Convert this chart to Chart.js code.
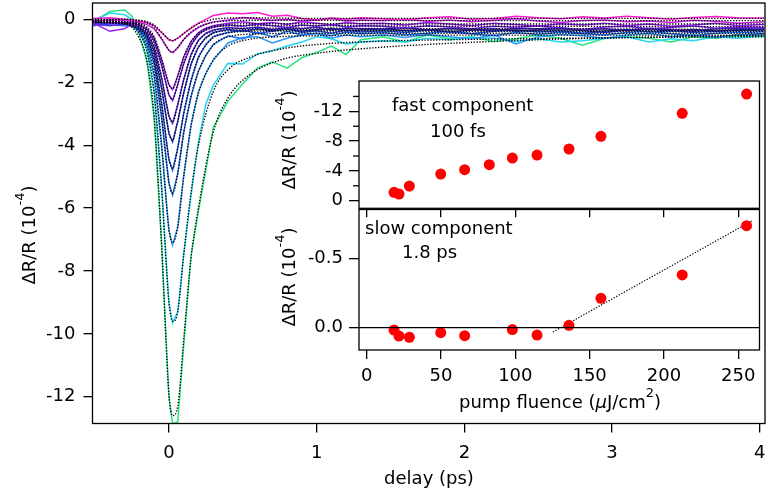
<!DOCTYPE html>
<html>
<head>
<meta charset="utf-8">
<script src="https://cdn.jsdelivr.net/npm/chart.js@4.4.1/dist/chart.umd.min.js"></script>
<style>
  html, body { margin: 0; padding: 0; background: #fff; }
  #wrap { position: relative; width: 768px; height: 496px; }
  #wrap canvas { position: absolute; left: 0; top: 0; }
</style>
</head>
<body>
<div id="wrap">
  <canvas id="main" width="768" height="496"></canvas>
  <canvas id="slow" width="768" height="496"></canvas>
  <canvas id="fast" width="768" height="496"></canvas>
</div>
<script>
// ---- main panel: transient reflectivity traces (delay in ps, dR/R in 1e-4) ----
var delay = [-0.52, -0.4, -0.3, -0.25, -0.2, -0.15, -0.1, -0.05, 0, 0.025,
  0.06, 0.1, 0.15, 0.2, 0.25, 0.3, 0.4, 0.5, 0.6, 0.7, 0.8, 0.9, 1.0, 1.1, 1.2, 1.3,
  1.45, 1.6, 1.75, 1.9, 2.05, 2.2, 2.35, 2.5, 2.65, 2.8, 2.95, 3.1, 3.25, 3.4, 3.55, 3.7, 3.85, 4.03];

var trA = [0.03, 0.05, 0.0, -0.03, -0.06, -0.1, -0.2, -0.42, -0.65, -0.69,
  -0.6, -0.45, -0.28, -0.12, 0.0, 0.12, 0.2, 0.18, 0.22, 0.1, 0.13, 0.03, -0.02, 0.04, 0.0, 0.05,
  0.02, -0.02, 0.05, 0.08, 0.0, 0.03, 0.1, 0.05, 0.02, 0.08, 0.04, 0.1, 0.05, 0.0, 0.06, 0.09, 0.05, 0.04];
var trB = [-0.05, -0.02, -0.04, -0.06, -0.1, -0.16, -0.3, -0.62, -0.99, -1.06,
  -0.9, -0.64, -0.42, -0.26, -0.15, -0.08, -0.02, 0.06, 0.02, -0.04, 0.0, -0.06, -0.02, 0.03, -0.05, -0.02,
  -0.04, 0.0, -0.06, -0.02, -0.08, -0.03, 0.02, -0.05, -0.1, -0.04, -0.02, -0.08, -0.05, -0.1, -0.03, -0.06, -0.12, -0.08];
var trC = [-0.1, -0.38, -0.3, -0.15, -0.18, -0.3, -0.6, -1.25, -2.08, -2.24,
  -1.8, -1.2, -0.7, -0.42, -0.28, -0.2, -0.12, -0.08, -0.14, -0.1, -0.16, -0.08, -0.12, -0.18, -0.1, -0.14,
  -0.12, -0.18, -0.1, -0.15, -0.2, -0.12, -0.16, -0.22, -0.14, -0.18, -0.12, -0.2, -0.15, -0.22, -0.18, -0.12, -0.2, -0.16];
var trD = [-0.08, -0.12, -0.1, -0.12, -0.18, -0.32, -0.68, -1.45, -2.4, -2.58,
  -2.08, -1.42, -0.82, -0.48, -0.32, -0.24, -0.18, -0.22, -0.15, -0.2, -0.26, -0.18, -0.22, -0.16, -0.24, -0.2,
  -0.22, -0.28, -0.2, -0.24, -0.3, -0.22, -0.26, -0.2, -0.28, -0.32, -0.24, -0.22, -0.3, -0.26, -0.2, -0.28, -0.24, -0.26];
var trE = [-0.15, -0.2, -0.15, -0.18, -0.25, -0.42, -0.88, -1.85, -3.08, -3.31,
  -2.72, -1.92, -1.12, -0.66, -0.44, -0.34, -0.26, -0.3, -0.24, -0.32, -0.26, -0.3, -0.24, -0.34, -0.28, -0.3,
  -0.3, -0.26, -0.34, -0.28, -0.32, -0.36, -0.28, -0.3, -0.26, -0.34, -0.3, -0.36, -0.28, -0.32, -0.38, -0.3, -0.28, -0.32];
var trF = [-0.12, -0.1, -0.15, -0.2, -0.28, -0.48, -1.02, -2.18, -3.62, -3.9,
  -3.25, -2.35, -1.42, -0.88, -0.58, -0.42, -0.32, -0.38, -0.3, -0.36, -0.3, -0.38, -0.32, -0.28, -0.36, -0.34,
  -0.3, -0.36, -0.32, -0.4, -0.34, -0.3, -0.38, -0.34, -0.3, -0.36, -0.42, -0.34, -0.3, -0.36, -0.32, -0.38, -0.34, -0.3];
var trG = [-0.2, -0.15, -0.1, -0.18, -0.3, -0.58, -1.25, -2.66, -4.45, -4.8,
  -4.1, -3.0, -1.95, -1.2, -0.8, -0.55, -0.42, -0.35, -0.45, -0.38, -0.3, -0.42, -0.36, -0.44, -0.34, -0.4,
  -0.36, -0.42, -0.34, -0.4, -0.46, -0.38, -0.34, -0.4, -0.36, -0.44, -0.38, -0.32, -0.4, -0.36, -0.42, -0.38, -0.34, -0.38];
var trH = [-0.1, -0.18, -0.2, -0.22, -0.35, -0.65, -1.42, -3.1, -5.2, -5.59,
  -4.9, -3.6, -2.45, -1.65, -1.15, -0.8, -0.52, -0.62, -0.42, -0.55, -0.38, -0.5, -0.44, -0.52, -0.4, -0.46,
  -0.42, -0.5, -0.44, -0.38, -0.46, -0.52, -0.42, -0.48, -0.4, -0.46, -0.5, -0.42, -0.38, -0.46, -0.52, -0.44, -0.4, -0.45];
var trI = [-0.15, -0.1, -0.12, -0.2, -0.4, -0.8, -1.8, -4.0, -6.7, -7.18,
  -6.6, -5.0, -3.35, -2.3, -1.72, -1.3, -0.75, -0.58, -0.55, -0.75, -0.6, -0.5, -0.45, -0.6, -0.5, -0.55,
  -0.5, -0.58, -0.48, -0.55, -0.62, -0.5, -0.78, -0.55, -0.48, -0.52, -0.6, -0.5, -0.45, -0.55, -0.5, -0.58, -0.48, -0.5];
var trJ = [-0.05, 0.2, 0.15, 0.0, -0.35, -0.95, -2.3, -5.3, -9.0, -9.65,
  -9.3, -7.5, -5.6, -3.9, -2.7, -2.1, -1.4, -1.42, -1.1, -1.0, -0.85, -0.72, -0.55, -0.62, -0.78, -0.72,
  -0.68, -0.72, -0.6, -0.65, -0.58, -0.6, -0.7, -0.62, -0.72, -0.68, -0.6, -0.55, -0.72, -0.62, -0.68, -0.55, -0.6, -0.52];
var trK = [-0.1, 0.25, 0.3, 0.1, -0.5, -1.3, -3.1, -7.1, -12.0, -12.85,
  -12.8, -10.4, -7.5, -6.1, -4.8, -3.45, -2.6, -2.05, -1.55, -1.35, -1.55, -1.22, -1.05, -0.85, -1.12, -0.65,
  -0.55, -0.72, -0.5, -0.62, -0.55, -0.7, -0.62, -0.5, -0.6, -0.82, -0.6, -0.55, -0.6, -0.72, -0.55, -0.6, -0.52, -0.55];

var traceColors = ['#ff1fcf', '#c61fe6', '#9a1ff2', '#7b22f0', '#5526e6', '#2a36d8',
  '#2056ee', '#1f74f2', '#2a98f8', '#22d6ef', '#25e57f'];

// fitted curves (black dotted)
var fitDelay = [-0.52, -0.3, -0.2, -0.15, -0.1, -0.05, 0, 0.025, 0.06, 0.1, 0.15, 0.2, 0.3, 0.4, 0.55, 0.75, 1.0, 1.4, 2.0, 2.7, 3.4, 4.03];
var fitA = [0, 0, -0.03, -0.07, -0.18, -0.4, -0.63, -0.68, -0.6, -0.45, -0.27, -0.14, 0.0, 0.04, 0.05, 0.04, 0.03, 0.03, 0.03, 0.03, 0.03, 0.03];
var fitB = [0, 0, -0.05, -0.1, -0.26, -0.6, -0.98, -1.04, -0.9, -0.64, -0.4, -0.25, -0.1, -0.05, -0.03, -0.03, -0.03, -0.04, -0.04, -0.04, -0.04, -0.04];
var fitC = [-0.05, -0.08, -0.13, -0.24, -0.55, -1.24, -2.07, -2.2, -1.8, -1.2, -0.72, -0.44, -0.22, -0.16, -0.14, -0.14, -0.14, -0.14, -0.15, -0.15, -0.15, -0.15];
var fitD = [-0.05, -0.08, -0.14, -0.28, -0.63, -1.42, -2.38, -2.54, -2.06, -1.4, -0.84, -0.5, -0.26, -0.21, -0.2, -0.2, -0.2, -0.21, -0.22, -0.22, -0.23, -0.23];
var fitE = [-0.08, -0.1, -0.18, -0.36, -0.82, -1.82, -3.06, -3.26, -2.7, -1.92, -1.14, -0.68, -0.36, -0.3, -0.28, -0.28, -0.28, -0.29, -0.3, -0.3, -0.31, -0.31];
var fitF = [-0.08, -0.1, -0.2, -0.42, -0.96, -2.14, -3.6, -3.84, -3.22, -2.34, -1.44, -0.88, -0.45, -0.36, -0.33, -0.33, -0.33, -0.34, -0.34, -0.35, -0.35, -0.35];
var fitG = [-0.08, -0.12, -0.24, -0.52, -1.18, -2.62, -4.42, -4.74, -4.08, -3.0, -1.95, -1.22, -0.58, -0.43, -0.38, -0.37, -0.37, -0.37, -0.38, -0.38, -0.38, -0.38];
var fitH = [-0.1, -0.14, -0.3, -0.6, -1.36, -3.06, -5.18, -5.52, -4.9, -3.62, -2.45, -1.65, -0.82, -0.56, -0.47, -0.45, -0.44, -0.44, -0.44, -0.44, -0.44, -0.44];
var fitI = [-0.1, -0.15, -0.36, -0.76, -1.74, -3.94, -6.66, -7.1, -6.6, -5.0, -3.4, -2.35, -1.3, -0.85, -0.63, -0.55, -0.52, -0.5, -0.5, -0.5, -0.5, -0.5];
var fitJ = [-0.05, -0.1, -0.45, -0.98, -2.32, -5.28, -8.98, -9.6, -9.3, -7.5, -5.5, -4.0, -2.3, -1.6, -1.2, -0.95, -0.8, -0.7, -0.64, -0.6, -0.57, -0.55];
var fitK = [-0.05, -0.12, -0.6, -1.3, -3.1, -7.1, -11.9, -12.6, -12.3, -10.2, -7.6, -6.0, -3.6, -2.5, -1.75, -1.3, -1.08, -0.9, -0.74, -0.62, -0.55, -0.5];

var delayTicks = [0, 1, 2, 3, 4];
var mainYTicks = [0, -2, -4, -6, -8, -10, -12];

// ---- insets: amplitudes vs pump fluence (uJ/cm^2) ----
var fluence  = [18.4, 21.7, 28.7, 49.8, 65.9, 82.5, 98.0, 114.6, 136.1, 157.6, 212.3, 255.6];
var fastAmp  = [-1.13, -0.9, -1.97, -3.58, -4.16, -4.83, -5.73, -6.13, -6.94, -8.64, -11.73, -14.32];
var slowAmp  = [0.017, 0.06, 0.069, 0.036, 0.058, null, 0.014, 0.053, -0.017, -0.212, -0.38, -0.735];
var slowFitX = [125.3, 259.4];
var slowFitY = [0.031, -0.771];
var fluenceTicks = [0, 50, 100, 150, 200, 250];
var fastTicks = [0, -4, -8, -12];
var fastMinor = [-2, -6, -10, -14];
var slowTicks = [0, -0.5];

var FONT = '"DejaVu Sans", sans-serif';
Chart.defaults.font.family = FONT;
Chart.defaults.font.size = 18;
Chart.defaults.color = '#000';

function setTicks(list) {
  return function(s) { s.ticks = list.map(function(v) { return {value: v}; }); };
}
// fix the axis box size and drop the label overhang padding chart.js adds
function fixH(h) {
  return function(s) { s.height = h; s.paddingLeft = 0; s.paddingRight = 0; };
}
function fixW(w) {
  return function(s) { s.width = w; s.paddingTop = 0; s.paddingBottom = 0; };
}
function partFont(p) { return (p.it ? 'italic ' : '') + (p.sup ? 13 : 18) + 'px ' + FONT; }
function richText(ctx, parts, x, y, angle, base) {
  ctx.save();
  ctx.translate(x, y);
  ctx.rotate(angle);
  ctx.fillStyle = '#000';
  ctx.textAlign = 'left';
  ctx.textBaseline = 'alphabetic';
  var w = 0;
  parts.forEach(function(p) { ctx.font = partFont(p); p.w = ctx.measureText(p.t).width; w += p.w; });
  var px = -w / 2;
  parts.forEach(function(p) {
    ctx.font = partFont(p);
    ctx.fillText(p.t, px, base - (p.sup ? 11 : 0));
    px += p.w;
  });
  ctx.restore();
}
function plainText(ctx, t, x, y) {
  ctx.save();
  ctx.font = '18px ' + FONT;
  ctx.fillStyle = '#000';
  ctx.textAlign = 'left';
  ctx.textBaseline = 'alphabetic';
  ctx.fillText(t, x, y);
  ctx.restore();
}
var yLabelParts = function() { return [{t: '\u0394R/R (10'}, {t: '-4', sup: 1}, {t: ')'}]; };

var frame = {
  id: 'frame',
  afterDraw: function(c) {
    var a = c.chartArea, ctx = c.ctx;
    ctx.save();
    ctx.strokeStyle = '#000';
    ctx.lineWidth = 1.3;
    ctx.strokeRect(a.left, a.top, a.right - a.left, a.bottom - a.top);
    ctx.restore();
  }
};
var whiteArea = {
  id: 'whiteArea',
  beforeDraw: function(c) {
    var a = c.chartArea;
    c.ctx.save();
    c.ctx.fillStyle = '#fff';
    c.ctx.fillRect(a.left, a.top, a.right - a.left, a.bottom - a.top);
    c.ctx.restore();
  }
};

function gridOpts(len) {
  return {drawOnChartArea: false, color: '#000', lineWidth: 1.3, tickLength: len};
}

// ---- main chart ----
var traces = [trA, trB, trC, trD, trE, trF, trG, trH, trI, trJ, trK];
var fits = [fitA, fitB, fitC, fitD, fitE, fitF, fitG, fitH, fitI, fitJ, fitK];
var mainSets = [];
fits.forEach(function(f) {
  mainSets.push({
    data: fitDelay.map(function(t, i) { return {x: t, y: f[i]}; }),
    borderColor: '#000', borderWidth: 1.4, borderDash: [1.3, 1.6],
    cubicInterpolationMode: 'monotone', pointRadius: 0, order: 0
  });
});
traces.forEach(function(d, k) {
  mainSets.push({
    data: delay.map(function(t, i) { return {x: t, y: d[i]}; }),
    borderColor: traceColors[k], borderWidth: 1.5, pointRadius: 0, order: 1
  });
});

var mainLabels = {
  id: 'mainLabels',
  afterDraw: function(c) {
    richText(c.ctx, yLabelParts(), 28, 235, -Math.PI / 2, 6.5);
    richText(c.ctx, [{t: 'delay (ps)'}], 429, 484, 0, 0);
  }
};

new Chart(document.getElementById('main'), {
  type: 'line',
  data: {datasets: mainSets},
  options: {
    responsive: false, animation: false, events: [],
    layout: {padding: {left: 0, top: 3, right: 3, bottom: 0}},
    plugins: {legend: {display: false}, tooltip: {enabled: false}},
    scales: {
      x: {
        type: 'linear', min: -0.517, max: 4.035,
        afterFit: fixH(72.5),
        afterBuildTicks: setTicks(delayTicks),
        grid: gridOpts(9), border: {display: false},
        ticks: {padding: 10, autoSkip: false, maxRotation: 0}
      },
      y: {
        type: 'linear', min: -12.85, max: 0.52,
        afterFit: fixW(92.5),
        afterBuildTicks: setTicks(mainYTicks),
        grid: gridOpts(9), border: {display: false},
        ticks: {padding: 8, autoSkip: false}
      }
    }
  },
  plugins: [frame, mainLabels]
});

// ---- slow component inset ----
var slowExtras = {
  id: 'slowExtras',
  afterDatasetsDraw: function(c) {
    var a = c.chartArea, ctx = c.ctx, y0 = c.scales.y.getPixelForValue(0);
    ctx.save();
    ctx.strokeStyle = '#000';
    ctx.lineWidth = 1.3;
    ctx.beginPath(); ctx.moveTo(a.left, y0); ctx.lineTo(a.right, y0); ctx.stroke();
    ctx.restore();
  },
  afterDraw: function(c) {
    plainText(c.ctx, 'slow component', 365, 234);
    plainText(c.ctx, '1.8 ps', 402, 258);
    richText(c.ctx, yLabelParts(), 288, 277, -Math.PI / 2, 6.5);
    richText(c.ctx, [{t: 'pump fluence ('}, {t: '\u03bc', it: 1}, {t: 'J/cm'}, {t: '2', sup: 1}, {t: ')'}], 560, 408, 0, 0);
  }
};

new Chart(document.getElementById('slow'), {
  type: 'scatter',
  data: {datasets: [
    {data: fluence.map(function(f, i) { return {x: f, y: slowAmp[i]}; }),
     backgroundColor: '#ff0000', borderWidth: 0, pointRadius: 5.5, order: 0},
    {data: slowFitX.map(function(f, i) { return {x: f, y: slowFitY[i]}; }),
     showLine: true, borderColor: '#000', borderWidth: 1.2, borderDash: [1.3, 1.6], pointRadius: 0, order: 1}
  ]},
  options: {
    responsive: false, animation: false, events: [],
    layout: {padding: {left: 250, top: 209.5, right: 8.5, bottom: 0}},
    plugins: {legend: {display: false}, tooltip: {enabled: false}},
    scales: {
      x: {
        type: 'linear', min: -5.2, max: 264.3,
        afterFit: fixH(146),
        afterBuildTicks: setTicks(fluenceTicks),
        grid: gridOpts(9), border: {display: false},
        ticks: {padding: 7, autoSkip: false, maxRotation: 0}
      },
      y: {
        type: 'linear', reverse: true, min: -0.852, max: 0.161,
        afterFit: fixW(109),
        afterBuildTicks: setTicks(slowTicks),
        grid: gridOpts(10), border: {display: false},
        ticks: {padding: 6, autoSkip: false, callback: function(v) { return v.toFixed(1); }}
      }
    }
  },
  plugins: [whiteArea, frame, slowExtras]
});

// ---- fast component inset ----
var fastExtras = {
  id: 'fastExtras',
  afterDraw: function(c) {
    var a = c.chartArea, ctx = c.ctx, ys = c.scales.y;
    ctx.save();
    ctx.strokeStyle = '#000';
    ctx.lineWidth = 1.3;
    fastMinor.forEach(function(v) {
      var py = ys.getPixelForValue(v);
      ctx.beginPath(); ctx.moveTo(a.left - 6, py); ctx.lineTo(a.left, py); ctx.stroke();
    });
    ctx.restore();
    plainText(ctx, 'fast component', 392, 111);
    plainText(ctx, '100 fs', 430, 137);
    richText(ctx, yLabelParts(), 288, 140, -Math.PI / 2, 6.5);
  }
};

new Chart(document.getElementById('fast'), {
  type: 'scatter',
  data: {datasets: [
    {data: fluence.map(function(f, i) { return {x: f, y: fastAmp[i]}; }),
     backgroundColor: '#ff0000', borderWidth: 0, pointRadius: 5.5}
  ]},
  options: {
    responsive: false, animation: false, events: [],
    layout: {padding: {left: 250, top: 81, right: 8.5, bottom: 0}},
    plugins: {legend: {display: false}, tooltip: {enabled: false}},
    scales: {
      x: {
        type: 'linear', min: -5.2, max: 264.3,
        afterFit: fixH(287.7),
        afterBuildTicks: setTicks(fluenceTicks),
        grid: gridOpts(9), border: {display: false},
        ticks: {autoSkip: false, maxRotation: 0, callback: function() { return ''; }}
      },
      y: {
        type: 'linear', reverse: true, min: -16.07, max: 1.02,
        afterFit: fixW(109),
        afterBuildTicks: setTicks(fastTicks),
        grid: gridOpts(10), border: {display: false},
        ticks: {padding: 6, autoSkip: false}
      }
    }
  },
  plugins: [whiteArea, frame, fastExtras]
});
</script>
</body>
</html>
